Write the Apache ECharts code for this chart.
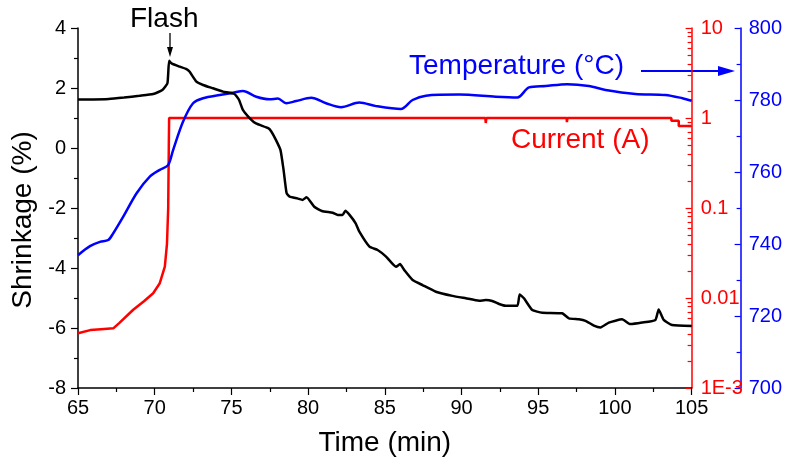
<!DOCTYPE html>
<html>
<head>
<meta charset="utf-8">
<script src="https://cdn.jsdelivr.net/npm/echarts@6/dist/echarts.min.js"></script>
<style>html,body{margin:0;padding:0;background:#fff}#c{width:785px;height:465px}</style>
</head>
<body>
<div id="c"></div>
<script>
// ---- data ----
const shrinkTime = [65, 66, 67, 68, 69, 69.9, 70.5, 70.83, 70.94, 71.1, 71.63, 72.07, 72.28, 72.72, 73.15, 73.8, 74.45, 75.2, 75.5, 75.75, 76.2, 76.6, 77.4, 77.6, 77.9, 78.2, 78.4, 78.6, 78.8, 79.3, 79.65, 79.9, 80.4, 80.9, 81.6, 81.93, 82.25, 82.43, 82.7, 83.1, 83.34, 84.0, 84.53, 85.08, 85.73, 85.99, 86.27, 86.81, 87.46, 88.33, 89.41, 90.28, 91.15, 91.58, 92.0, 92.45, 92.88, 93.64, 93.79, 94.07, 94.61, 95.26, 96.56, 97.0, 97.65, 98.08, 98.63, 99.06, 99.6, 100.47, 101.0, 101.77, 102.64, 102.85, 103.18, 103.72, 105];
const shrinkage = [1.62, 1.62, 1.63, 1.68, 1.74, 1.8, 1.93, 2.16, 2.91, 2.82, 2.71, 2.63, 2.54, 2.21, 2.1, 1.99, 1.88, 1.8, 1.6, 1.27, 0.99, 0.82, 0.66, 0.55, 0.27, -0.07, -0.73, -1.51, -1.62, -1.68, -1.73, -1.64, -1.96, -2.1, -2.16, -2.23, -2.23, -2.09, -2.23, -2.51, -2.79, -3.29, -3.4, -3.62, -3.96, -3.87, -4.07, -4.4, -4.57, -4.79, -4.93, -5.01, -5.09, -5.07, -5.1, -5.2, -5.26, -5.26, -4.88, -5.01, -5.4, -5.49, -5.51, -5.68, -5.71, -5.76, -5.92, -5.98, -5.82, -5.71, -5.87, -5.82, -5.73, -5.38, -5.73, -5.9, -5.93];

const tempTime = [65, 65.78, 66.43, 66.97, 67.3, 67.95, 68.82, 69.68, 70.33, 70.87, 71.2, 71.85, 72.5, 73.15, 74.24, 75.1, 75.75, 76.62, 77.49, 78.03, 78.57, 79.22, 80.2, 81.17, 82.15, 83.34, 84.43, 86.05, 86.81, 87.68, 89.85, 92.23, 93.64, 94.4, 95.48, 96.89, 98.3, 99.39, 101.33, 103.29, 104.4, 105];
const temperature = [736.9, 739.4, 740.6, 741.1, 743, 747.6, 754.1, 758.7, 760.6, 761.9, 766.1, 774, 779.1, 780.5, 781.4, 782, 782.5, 780.9, 780.2, 780.4, 779.1, 779.7, 780.6, 779.1, 778.0, 779.3, 778.3, 777.5, 780, 781.2, 781.5, 780.9, 780.7, 783.5, 783.9, 784.4, 783.9, 782.8, 781.7, 781.4, 780.5, 779.8];

const currentTime = [65, 65.8, 66.5, 67.3, 67.7, 68.6, 69.3, 69.9, 70.33, 70.66, 70.8, 70.88, 70.92, 70.94, 91.55, 91.58, 91.62, 96.85, 96.87, 96.9, 103.68, 103.68, 104.16, 104.16, 105];
const current = [0.00405, 0.0044, 0.0045, 0.0046, 0.0053, 0.0074, 0.0092, 0.0113, 0.0146, 0.0223, 0.04, 0.1, 0.5, 1.0, 1.0, 0.88, 1.0, 1.0, 0.9, 1.0, 1.0, 0.933, 0.933, 0.815, 0.815];

const redTickLabels = ['1E-3', '0.01', '0.1', '1', '10'];
const logMantissas = [2, 3, 4, 5, 6, 7, 8, 9];
const logDecades = [-3, -2, -1, 0];

// ---- build ----
const zip = (a, b) => a.map((x, i) => [x, b[i]]);
const redMinor = [];
logDecades.forEach(k => logMantissas.forEach(m => redMinor.push(Math.log10(m) + k)));
const FONT = 'Liberation Sans, Arial, sans-serif';
const RED = '#ff0000', BLUE = '#0000ff';
const TICKFS = 20;

const chart = echarts.init(document.getElementById('c'), null, {renderer: 'canvas'});
chart.setOption({
  animation: false,
  backgroundColor: '#fff',
  textStyle: {fontFamily: FONT},
  grid: {left: 78, right: 92, top: 28, bottom: 77},
  xAxis: {
    type: 'value', min: 65, max: 105, interval: 5,
    name: 'Time (min)', nameLocation: 'middle', nameGap: 41,
    nameTextStyle: {fontSize: 28, color: '#000', fontFamily: FONT},
    axisLine: {show: true, onZero: false, lineStyle: {color: '#000', width: 1.5}},
    axisTick: {show: true, length: 7, lineStyle: {color: '#000', width: 1.2}},
    minorTick: {show: true, splitNumber: 2, length: 4, lineStyle: {color: '#000', width: 1.2}},
    splitLine: {show: false},
    axisLabel: {fontSize: TICKFS, color: '#000', margin: 10, fontFamily: FONT}
  },
  yAxis: [
    {
      type: 'value', position: 'left', min: -8, max: 4, interval: 2,
      name: 'Shrinkage (%)', nameLocation: 'middle', nameGap: 40, nameRotate: 90,
      nameTextStyle: {fontSize: 28, color: '#000', fontFamily: FONT, padding: [0, 24, 0, 0]},
      axisLine: {show: true, onZero: false, lineStyle: {color: '#000', width: 1.5}},
      axisTick: {show: true, length: 7, lineStyle: {color: '#000', width: 1.2}},
      minorTick: {show: true, splitNumber: 2, length: 4, lineStyle: {color: '#000', width: 1.2}},
      splitLine: {show: false},
      axisLabel: {fontSize: TICKFS, color: '#000', margin: 12, fontFamily: FONT}
    },
    {
      type: 'log', logBase: 10, position: 'right', min: 0.001, max: 10,
      axisLine: {show: true, onZero: false, lineStyle: {color: RED, width: 1.5}},
      axisTick: {show: true, inside: true, length: 6, lineStyle: {color: RED, width: 1.2}},
      splitLine: {show: false},
      axisLabel: {fontSize: TICKFS, color: RED, margin: 9, fontFamily: FONT,
        formatter: v => redTickLabels[Math.round(Math.log10(v)) + 3]}
    },
    {
      type: 'value', position: 'right', min: -3, max: 1,
      axisLine: {show: false, onZero: false},
      axisTick: {show: true, inside: true, length: 4, customValues: redMinor, lineStyle: {color: RED, width: 1.2}},
      splitLine: {show: false},
      axisLabel: {show: false}
    },
    {
      type: 'value', position: 'right', offset: 49, min: 700, max: 800, interval: 20,
      axisLine: {show: true, onZero: false, lineStyle: {color: BLUE, width: 1.5}},
      axisTick: {show: true, inside: true, length: 6, lineStyle: {color: BLUE, width: 1.2}},
      minorTick: {show: true, splitNumber: 2, length: 4, lineStyle: {color: BLUE, width: 1.2}},
      splitLine: {show: false},
      axisLabel: {fontSize: TICKFS, color: BLUE, margin: 8, fontFamily: FONT}
    }
  ],
  series: [
    {type: 'line', name: 'Current', yAxisIndex: 1, data: zip(currentTime, current),
     showSymbol: false, lineStyle: {color: RED, width: 2.5}, itemStyle: {color: RED}, clip: true, z: 2},
    {type: 'line', name: 'Temperature', yAxisIndex: 3, data: zip(tempTime, temperature),
     showSymbol: false, smooth: 0.3, lineStyle: {color: BLUE, width: 2.5}, itemStyle: {color: BLUE}, clip: true, z: 3},
    {type: 'line', name: 'Shrinkage', yAxisIndex: 0, data: zip(shrinkTime, shrinkage),
     showSymbol: false, smooth: 0.15, lineStyle: {color: '#000', width: 2.5}, itemStyle: {color: '#000'}, clip: true, z: 4}
  ],
  graphic: [
    {type: 'text', left: 130, top: 5, style: {text: 'Flash', fontSize: 28, fontFamily: FONT, fill: '#000'}},
    {type: 'line', shape: {x1: 170, y1: 33, x2: 170, y2: 49}, style: {stroke: '#000', lineWidth: 1.3}},
    {type: 'polygon', shape: {points: [[167, 47], [173, 47], [170, 57]]}, style: {fill: '#000'}},
    {type: 'text', left: 409, top: 52, style: {text: 'Temperature (°C)', fontSize: 28, fontFamily: FONT, fill: BLUE}},
    {type: 'line', shape: {x1: 641, y1: 71, x2: 722, y2: 71}, style: {stroke: BLUE, lineWidth: 2}},
    {type: 'polygon', shape: {points: [[718, 66], [735, 71], [718, 76]]}, style: {fill: BLUE}},
    {type: 'text', left: 511, top: 126, style: {text: 'Current (A)', fontSize: 28, fontFamily: FONT, fill: RED}}
  ]
});
</script>
</body>
</html>
